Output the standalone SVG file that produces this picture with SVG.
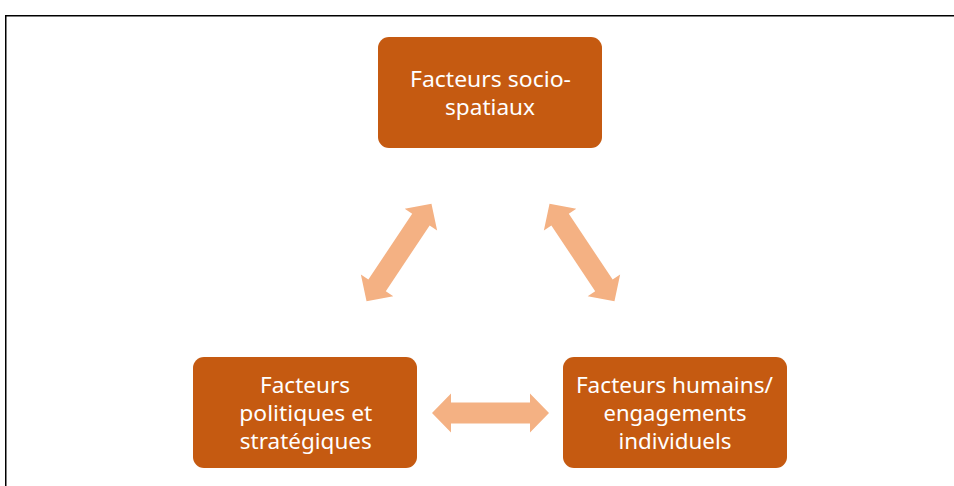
<svg xmlns="http://www.w3.org/2000/svg" width="954" height="486" viewBox="0 0 954 486">
<style>
.node{fill:#C55A11;}
.lbl{font-family:"Noto Sans","Liberation Sans",sans-serif;font-size:22px;fill:#FFFFFF;text-anchor:middle;}
.arr{fill:#F4B183;}
</style>
<defs>
<path id="dbl" d="M -58.5,0 L -39.5,-19.5 L -39.5,-10.5 L 39.5,-10.5 L 39.5,-19.5 L 58.5,0 L 39.5,19.5 L 39.5,10.5 L -39.5,10.5 L -39.5,19.5 Z"/>
</defs>
<rect x="0" y="0" width="954" height="486" fill="#FFFFFF"/>
<rect x="5.75" y="15.75" width="1000" height="600" fill="none" stroke="#000000" stroke-width="1.5"/>
<g id="connectors">
<use href="#dbl" class="arr" transform="translate(490.5,413)"/>
<use href="#dbl" class="arr" transform="translate(399,252.5) rotate(-56.3)"/>
<use href="#dbl" class="arr" transform="translate(582,252.5) rotate(56.3)"/>
</g>
<g id="node-socio">
<rect class="node" x="378" y="37" width="224" height="111" rx="11"/>
<text class="lbl" x="490.5" y="87.3" textLength="161" lengthAdjust="spacingAndGlyphs">Facteurs socio-</text>
<text class="lbl" x="490" y="114.5" textLength="90" lengthAdjust="spacingAndGlyphs">spatiaux</text>
</g>
<g id="node-politiques">
<rect class="node" x="193" y="357" width="224" height="111" rx="11"/>
<text class="lbl" x="305" y="392.7" textLength="90" lengthAdjust="spacingAndGlyphs">Facteurs</text>
<text class="lbl" x="305.8" y="420.7" textLength="133" lengthAdjust="spacingAndGlyphs">politiques et</text>
<text class="lbl" x="305.8" y="449.3" textLength="132" lengthAdjust="spacingAndGlyphs">stratégiques</text>
</g>
<g id="node-humains">
<rect class="node" x="563" y="357" width="224" height="111" rx="11"/>
<text class="lbl" x="674.4" y="392.7" textLength="197" lengthAdjust="spacingAndGlyphs">Facteurs humains/</text>
<text class="lbl" x="675" y="420.7" textLength="143" lengthAdjust="spacingAndGlyphs">engagements</text>
<text class="lbl" x="675" y="449.3" textLength="113" lengthAdjust="spacingAndGlyphs">individuels</text>
</g>
</svg>
